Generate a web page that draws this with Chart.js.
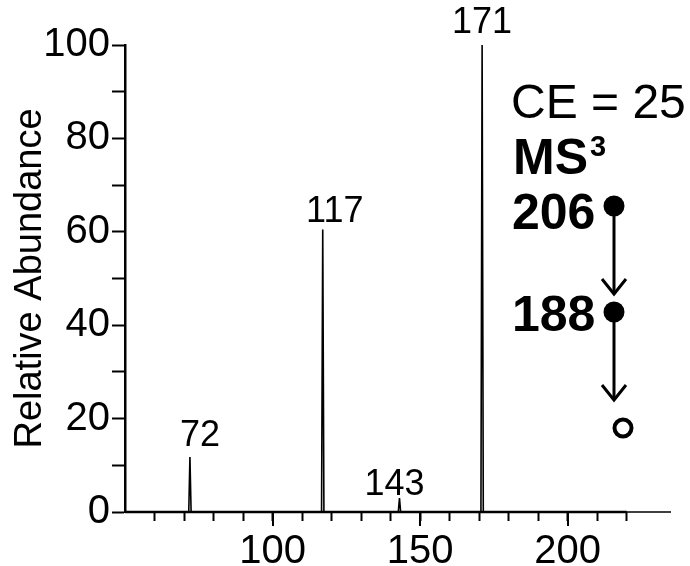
<!DOCTYPE html>
<html>
<head>
<meta charset="utf-8">
<script src="https://cdn.jsdelivr.net/npm/chart.js@4.4.1/dist/chart.umd.min.js"></script>
<style>
  html, body { margin: 0; padding: 0; background: #ffffff; }
  #wrap { width: 690px; height: 566px; position: relative; }
</style>
</head>
<body>
<div id="wrap"><canvas id="c" width="690" height="566"></canvas></div>
<script>
// ---- data ----
const peakMz = [72, 117, 143, 171];
const peakAbundance = [11.8, 60.5, 3.0, 100];
const peakLabels = ['72', '117', '143', '171'];
const xRange = [50, 235];
const yRange = [0, 100];
const xLabeledTicks = [100, 150, 200];
const yLabeledTicks = [0, 20, 40, 60, 80, 100];
const collisionEnergyText = 'CE = 25';
const msStageText = ['MS', '3'];
const precursorMz = ['206', '188'];

// spectrum trace built from peak lists (narrow centroid-like spikes on a baseline)
const spectrum = [{ x: xRange[0], y: 0 }];
peakMz.forEach((m, i) => {
  spectrum.push({ x: m - 0.4, y: 0 }, { x: m, y: peakAbundance[i] }, { x: m + 0.4, y: 0 });
});
spectrum.push({ x: xRange[1], y: 0 });

const FONT = '"Liberation Sans", Arial, Helvetica, sans-serif';

const annotate = {
  id: 'annotate',
  afterDraw(chart, args, opts) {
    const ctx = chart.ctx;
    const xs = chart.scales.x, ys = chart.scales.y;
    ctx.save();
    ctx.fillStyle = '#000';
    ctx.strokeStyle = '#000';

    // major x tick extensions
    ctx.lineWidth = 2;
    xLabeledTicks.forEach(v => {
      const px = Math.round(xs.getPixelForValue(v));
      ctx.beginPath();
      ctx.moveTo(px, ys.bottom);
      ctx.lineTo(px, ys.bottom + 14);
      ctx.stroke();
    });

    // x axis line (thick) up to last tick
    ctx.lineWidth = 2.5;
    ctx.beginPath();
    ctx.moveTo(xs.left, ys.bottom);
    ctx.lineTo(xs.getPixelForValue(220), ys.bottom);
    ctx.stroke();

    // peak labels
    ctx.font = '36px ' + FONT;
    ctx.textAlign = 'center';
    ctx.textBaseline = 'alphabetic';
    peakMz.forEach((m, i) => {
      const px = xs.getPixelForValue(m) + opts.labelDx[i];
      const py = ys.getPixelForValue(peakAbundance[i]) - opts.labelDy[i];
      ctx.fillText(peakLabels[i], px, py);
    });

    // right-hand annotation
    ctx.textAlign = 'left';
    ctx.font = '48px ' + FONT;
    ctx.fillText(collisionEnergyText, 511, 118);
    ctx.font = 'bold 50px ' + FONT;
    ctx.fillText(msStageText[0], 513, 174);
    const msW = ctx.measureText(msStageText[0]).width;
    ctx.font = 'bold 29px ' + FONT;
    ctx.fillText(msStageText[1], 513 + msW + 2, 156);

    ctx.font = 'bold 50px ' + FONT;
    ctx.fillText(precursorMz[0], 512, 229);
    ctx.fillText(precursorMz[1], 512, 331);

    // filled circles + arrows
    const cx = 614;
    const nodes = [206, 312];
    nodes.forEach(cy => {
      ctx.beginPath();
      ctx.arc(cx, cy, 10.5, 0, Math.PI * 2);
      ctx.fill();
    });
    ctx.lineWidth = 3;
    ctx.lineCap = 'butt';
    const arrows = [[216, 294], [322, 400]];
    arrows.forEach(([y0, y1]) => {
      ctx.beginPath();
      ctx.moveTo(cx, y0);
      ctx.lineTo(cx, y1);
      ctx.stroke();
      ctx.beginPath();
      ctx.moveTo(cx - 12, y1 - 15);
      ctx.lineTo(cx, y1);
      ctx.lineTo(cx + 12, y1 - 15);
      ctx.stroke();
    });
    // open circle
    ctx.lineWidth = 4;
    ctx.beginPath();
    ctx.arc(623, 428, 8.5, 0, Math.PI * 2);
    ctx.stroke();

    ctx.restore();
  }
};

new Chart(document.getElementById('c'), {
  type: 'scatter',
  data: {
    datasets: [{
      data: spectrum,
      showLine: true,
      borderColor: '#000',
      borderWidth: 1.6,
      pointRadius: 0,
      tension: 0,
      clip: false
    }]
  },
  options: {
    responsive: false,
    animation: false,
    devicePixelRatio: 1,
    layout: { padding: { left: 0, top: 45, right: 19, bottom: 0 } },
    plugins: {
      legend: { display: false },
      tooltip: { enabled: false },
      annotate: { labelDx: [10, 12, -5, 0], labelDy: [11, 7, 3, 12] }
    },
    scales: {
      x: {
        type: 'linear',
        min: xRange[0],
        max: xRange[1],
        afterFit(s) { s.height = 54; },
        afterBuildTicks(s) { s.ticks = s.ticks.filter(t => t.value > xRange[0] && t.value <= 220); },
        border: { display: false },
        grid: { drawOnChartArea: false, drawTicks: true, tickLength: 9, tickColor: '#000', tickWidth: 2 },
        ticks: {
          stepSize: 10,
          includeBounds: false,
          autoSkip: false,
          maxRotation: 0,
          padding: 7,
          color: '#000',
          font: { family: FONT, size: 40 },
          callback: v => xLabeledTicks.includes(v) ? String(v) : ''
        }
      },
      y: {
        type: 'linear',
        min: yRange[0],
        max: yRange[1],
        afterFit(s) { s.width = 125; },
        border: { display: true, color: '#000', width: 2.5 },
        grid: { drawOnChartArea: false, drawTicks: true, tickLength: 13, tickColor: '#000', tickWidth: 2 },
        ticks: {
          stepSize: 10,
          autoSkip: false,
          padding: 2,
          color: '#000',
          font: { family: FONT, size: 40 },
          callback: v => yLabeledTicks.includes(v) ? String(v) : ''
        },
        title: {
          display: true,
          text: 'Relative Abundance',
          color: '#000',
          font: { family: FONT, size: 38 },
          padding: { top: 8, bottom: 0 }
        }
      }
    }
  },
  plugins: [annotate]
});
</script>
</body>
</html>
